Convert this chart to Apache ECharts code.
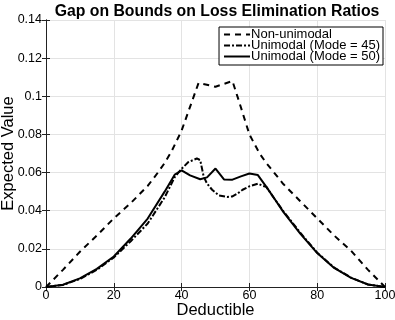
<!DOCTYPE html>
<html>
<head>
<meta charset="utf-8">
<script src="https://cdn.jsdelivr.net/npm/echarts@6/dist/echarts.min.js"></script>
<style>html,body{margin:0;padding:0;background:#fff;}#c{width:395px;height:320px;}</style>
</head>
<body>
<div id="c"></div>
<script>
var titleText = 'Gap on Bounds on Loss Elimination Ratios';
var xLabel = 'Deductible';
var yLabel = 'Expected Value';
var seriesNames = ['Non-unimodal', 'Unimodal (Mode = 45)', 'Unimodal (Mode = 50)'];

var xNon = [0, 5, 10, 15, 20, 25, 30, 33, 35, 37, 40, 43, 45, 50, 55, 57, 60, 63, 65, 70, 75, 80, 85, 90, 95, 100];
var yNon = [0, 0.009, 0.0185, 0.027, 0.036, 0.044, 0.053, 0.060, 0.065, 0.071, 0.082, 0.097, 0.107, 0.105, 0.108, 0.097, 0.080, 0.070, 0.065, 0.054, 0.045, 0.036, 0.027, 0.019, 0.009, 0];

var x45 = [0, 5, 10, 15, 20, 25, 30, 35, 38, 40, 42, 44.5, 45.5, 46.5, 47.5, 49, 51, 53.4, 55, 56.5, 58, 60, 62.5, 64, 65, 67.5, 70, 75, 80, 85, 90, 95, 100];
var y45 = [0, 0.0011, 0.0042, 0.009, 0.0155, 0.024, 0.0333, 0.047, 0.0577, 0.062, 0.0655, 0.0674, 0.0665, 0.058, 0.0542, 0.051, 0.048, 0.0472, 0.0475, 0.049, 0.051, 0.0528, 0.0542, 0.053, 0.0525, 0.046, 0.0398, 0.0285, 0.018, 0.0102, 0.0049, 0.0013, 0];

var x50 = [0, 5, 10, 15, 20, 25, 30, 35, 38, 40, 42.5, 45.5, 47.5, 50, 52.5, 55, 57.5, 60, 62.5, 65, 67.5, 70, 75, 80, 85, 90, 95, 100];
var y50 = [0, 0.0012, 0.0045, 0.0095, 0.016, 0.0254, 0.0359, 0.050, 0.059, 0.0612, 0.0585, 0.0565, 0.0575, 0.0621, 0.0564, 0.0563, 0.058, 0.0595, 0.0587, 0.0525, 0.046, 0.0394, 0.028, 0.0178, 0.010, 0.0048, 0.0013, 0];

var xTicks = [0, 20, 40, 60, 80, 100];
var yTicks = [0, 0.02, 0.04, 0.06, 0.08, 0.1, 0.12, 0.14];

function pairs(xs, ys) { return xs.map(function (x, i) { return [x, ys[i]]; }); }

var chart = echarts.init(document.getElementById('c'), null, {renderer: 'canvas'});
var font = 'Liberation Sans, Arial, Helvetica, sans-serif';
var axisCol = '#222';

chart.setOption({
  animation: false,
  backgroundColor: '#fff',
  textStyle: {fontFamily: font},
  title: {
    text: titleText,
    left: 212, top: -1, textAlign: 'center',
    textStyle: {fontFamily: font, fontSize: 15.8, fontWeight: 'bold', color: '#000'}
  },
  legend: {
    orient: 'vertical',
    right: 12, top: 27,
    data: seriesNames,
    backgroundColor: '#fff',
    borderColor: '#000', borderWidth: 1, borderRadius: 0,
    padding: [1, 3, 2, 4],
    itemGap: -2, itemWidth: 26, itemHeight: 11,
    itemStyle: {opacity: 0},
    textStyle: {fontFamily: font, fontSize: 13, color: '#000', padding: [0,0,0,-4], lineHeight: 12}
  },
  grid: {left: 46, top: 20, right: 10, bottom: 33, containLabel: false, outerBoundsMode: 'none'},
  xAxis: [{
    type: 'value', min: 0, max: 100, interval: 20,
    name: xLabel, nameLocation: 'middle', nameGap: 15, nameMoveOverlap: false,
    nameTextStyle: {fontFamily: font, fontSize: 16.5, color: '#000'},
    axisLine: {show: true, lineStyle: {color: axisCol, width: 1}},
    axisTick: {show: true, inside: true, length: 4, lineStyle: {color: axisCol}},
    axisLabel: {fontFamily: font, fontSize: 12.5, color: '#000', margin: 2,
      formatter: function (v) { return xTicks.indexOf(v) >= 0 ? String(v) : ''; }},
    splitLine: {show: true, lineStyle: {color: '#e3e3e3', width: 1}}
  }, {
    type: 'value', min: 0, max: 100, interval: 20, position: 'top',
    axisLine: {show: true, lineStyle: {color: axisCol, width: 1}},
    axisTick: {show: true, inside: true, length: 4, lineStyle: {color: axisCol}},
    axisLabel: {show: false}, splitLine: {show: false}
  }],
  yAxis: [{
    type: 'value', min: 0, max: 0.14, interval: 0.02,
    name: yLabel, nameLocation: 'middle', nameGap: 29, nameRotate: 90, nameMoveOverlap: false,
    nameTextStyle: {fontFamily: font, fontSize: 16.5, color: '#000'},
    axisLine: {show: true, lineStyle: {color: axisCol, width: 1}},
    axisTick: {show: true, inside: true, length: 4, lineStyle: {color: axisCol}},
    axisLabel: {fontFamily: font, fontSize: 12.5, color: '#000', margin: 4,
      formatter: function (v) { return String(+v.toFixed(2)); }},
    splitLine: {show: true, lineStyle: {color: '#e3e3e3', width: 1}}
  }, {
    type: 'value', min: 0, max: 0.14, interval: 0.02, position: 'right',
    axisLine: {show: true, lineStyle: {color: axisCol, width: 1}},
    axisTick: {show: true, inside: true, length: 4, lineStyle: {color: axisCol}},
    axisLabel: {show: false}, splitLine: {show: false}
  }],
  series: [{
    name: seriesNames[0], type: 'line', symbol: 'none', smooth: false,
    data: pairs(xNon, yNon),
    lineStyle: {color: '#000', width: 2, type: [6, 5]},
    itemStyle: {color: '#000'}
  }, {
    name: seriesNames[1], type: 'line', symbol: 'none', smooth: false,
    data: pairs(x45, y45),
    lineStyle: {color: '#000', width: 2, type: [6, 2, 2, 2]},
    itemStyle: {color: '#000'}
  }, {
    name: seriesNames[2], type: 'line', symbol: 'none', smooth: false,
    data: pairs(x50, y50),
    lineStyle: {color: '#000', width: 2, type: 'solid'},
    itemStyle: {color: '#000'}
  }]
});
</script>
</body>
</html>
